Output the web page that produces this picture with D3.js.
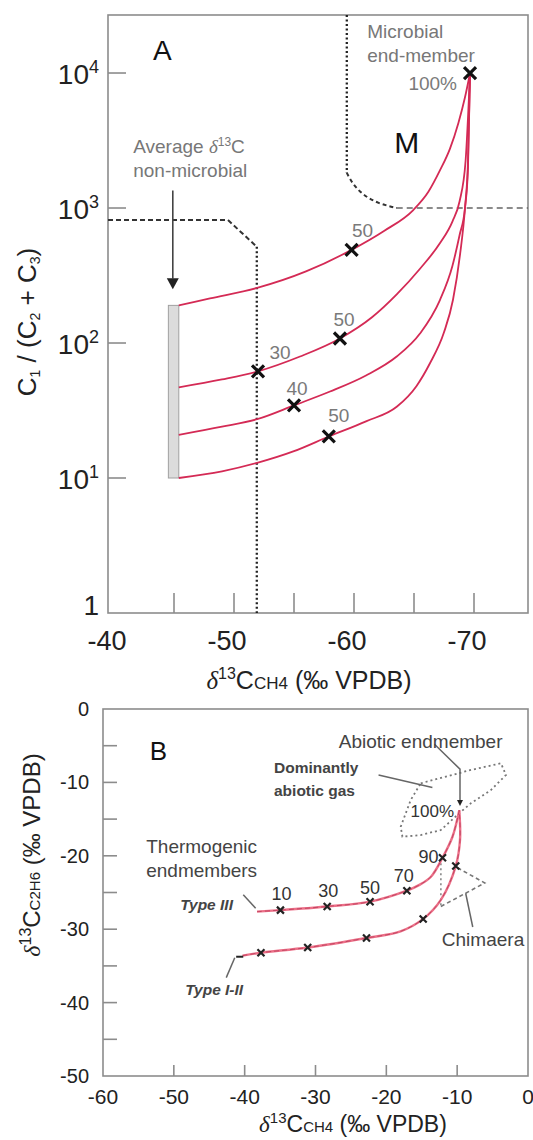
<!DOCTYPE html>
<html>
<head>
<meta charset="utf-8">
<script src="https://cdn.jsdelivr.net/npm/d3@7"></script>
<style>
  body { margin: 0; background: #fff; }
  svg { display: block; font-family: 'Liberation Sans', Arial, sans-serif; }
</style>
</head>
<body>
<div id="chart"></div>
<script>
// ---- panel A: d13C-CH4 vs C1/(C2+C3), mixing curves to microbial end-member ----
const curveA1 = [[-45.4, 190], [-48, 214], [-52, 257], [-56, 339], [-59.8, 490], [-62.5, 676], [-64.94, 966], [-66.2, 1318], [-67.17, 1905], [-68, 2754], [-68.7, 4266], [-69.25, 6607], [-69.67, 10000]];
const curveA2 = [[-45.4, 47], [-49, 53.7], [-52, 61.7], [-55.5, 79.4], [-58.83, 108], [-61.5, 155], [-63.56, 229], [-65.5, 355], [-67.17, 550], [-68.2, 794], [-68.8, 1122], [-69.3, 2239], [-69.67, 10000]];
const curveA3 = [[-45.4, 20.9], [-49, 24], [-52, 27.4], [-55, 34.5], [-58, 43.7], [-61, 57.5], [-63.56, 79.4], [-65.5, 117.5], [-67.17, 209], [-68.2, 372], [-68.8, 631], [-69.25, 1000], [-69.5, 1995], [-69.67, 10000]];
const curveA4 = [[-45.4, 10], [-49, 11.2], [-52, 13], [-55, 15.8], [-57.9, 20.3], [-61, 26.3], [-63.56, 33.7], [-65.2, 47.9], [-66.33, 70.8], [-67.5, 120], [-68.25, 209], [-68.83, 447], [-69.25, 1000], [-69.5, 2239], [-69.67, 10000]];
const markersA = [[-69.67, 10000], [-59.8, 490], [-58.83, 108], [-52, 61.7], [-55, 34.5], [-57.9, 20.3]];
const markerLabelsA = ['100%', '50', '50', '30', '40', '50'];
const averageBar = { x: [-44.53, -45.4], y: [10, 190] };
const nonMicrobialLine = [[-39.5, 815], [-49.5, 815], [-51.9, 516], [-51.9, 1]];
const microbialLine = [[-59.4, 26900], [-59.4, 1820], [-59.9, 1500], [-60.75, 1250], [-62, 1080], [-63.56, 1000], [-74.5, 1000]];
const yTicksA = [1, 10, 100, 1000, 10000];
const yTickExpA = [null, 1, 2, 3, 4];
const xTicksA = [-45, -50, -55, -60, -65, -70];
const xLabelsA = [-40, -50, -60, -70];

// ---- panel B: d13C-CH4 vs d13C-C2H6, thermogenic to abiotic mixing ----
const typeIII = [[-38.25, -27.6], [-34.95, -27.4], [-28.35, -26.9], [-22.3, -26.25], [-17.1, -24.75], [-15.4, -24.0], [-13.7, -22.85], [-12.07, -20.26], [-10.66, -17.4], [-9.7, -13.8]];
const typeI_II = [[-40.3, -33.6], [-37.7, -33.2], [-31.1, -32.5], [-22.8, -31.2], [-18, -30.3], [-14.8, -28.6], [-12.3, -26], [-10.2, -21.4], [-9.6, -17.85], [-9.7, -13.8]];
const markersIII = [[-34.95, -27.4], [-28.35, -26.9], [-22.3, -26.25], [-17.1, -24.75], [-12.07, -20.26]];
const labelsIII = ['10', '30', '50', '70', '90'];
const markersI_II = [[-37.7, -33.2], [-31.1, -32.5], [-22.8, -31.2], [-14.8, -28.6], [-10.2, -21.4]];
const abioticEnd = [-9.6, -12.8];
const abioticLeader = [[-9.6, -12.8], [-9.6, -8.2], [-13.2, -4.8]];
const abioticGasOutline = [[-15.14, -10.12], [-8.07, -8.31], [-3.82, -7.4], [-3.11, -8.99], [-5.24, -11.04], [-8.07, -12.85], [-9.72, -14.21], [-12.3, -16.49], [-15.14, -17.17], [-17.73, -17.4], [-17.97, -16.04], [-16.56, -12.4], [-15.14, -10.12]];
const gasLeader = [[-21.1, -9.0], [-13.5, -10.7]];
const chimaeraDotted = [[-12.3, -21.0], [-12.3, -26.9]];
const chimaeraDashed = [[-12.3, -26.9], [-6.1, -23.7], [-10.2, -21.5]];
const chimaeraLeader = [[-8.8, -25.1], [-7.8, -29.7]];
const typeIIILeader = [[-40.2, -25.3], [-38.45, -27.15]];
const typeI_IILeader = [[-42.6, -36.6], [-41.4, -33.9]];
const typeI_IIStart = [[-41.2, -33.75], [-40.2, -33.75]];
const yTicksB = [-45, -40, -35, -30, -25, -20, -15, -10, -5];
const yLabelsB = [0, -10, -20, -30, -40, -50];
const xTicksB = [-50, -40, -30, -20, -10];
const xLabelsB = [-60, -50, -40, -30, -20, -10, 0];

const svg = d3.select('#chart').append('svg')
  .attr('width', 533)
  .attr('height', 1140);

const frameColor = '#8c8c8c';
const fmtMinus = d => (d < 0 ? '-' + Math.abs(d) : String(d));
const xPath = s => `M${-s},${-s}L${s},${s}M${-s},${s}L${s},${-s}`;

// ================= PANEL A =================
const xA = d3.scaleLinear().domain([-39.5, -74.5]).range([108, 528]);
const yA = d3.scaleLog().domain([1, 26900]).range([613, 15]);
const a = svg.append('g');

const lineA = d3.line()
  .x(d => xA(d[0]))
  .y(d => yA(d[1]));

a.append('rect')
  .attr('x', xA.range()[0]).attr('y', yA.range()[1])
  .attr('width', xA.range()[1] - xA.range()[0])
  .attr('height', yA.range()[0] - yA.range()[1])
  .attr('fill', 'none').attr('stroke', frameColor).attr('stroke-width', 1.6);

a.selectAll('.ytick').data(yTicksA.slice(1)).enter().append('line')
  .attr('x1', xA.range()[0]).attr('x2', xA.range()[0] + 18)
  .attr('y1', d => yA(d)).attr('y2', d => yA(d))
  .attr('stroke', frameColor).attr('stroke-width', 1.6);

a.selectAll('.xtick').data(xTicksA).enter().append('line')
  .attr('x1', d => xA(d)).attr('x2', d => xA(d))
  .attr('y1', yA.range()[0]).attr('y2', yA.range()[0] - 20)
  .attr('stroke', frameColor).attr('stroke-width', 1.6);

const yLab = a.selectAll('.ylab').data(yTicksA).enter().append('text')
  .attr('x', xA.range()[0] - 9)
  .attr('y', (d, i) => yA(d) + (yTickExpA[i] === null ? 2 : 11))
  .attr('text-anchor', 'end')
  .attr('font-size', 28)
  .attr('fill', '#222');
yLab.each(function (d, i) {
  const t = d3.select(this);
  if (yTickExpA[i] === null) {
    t.text('1');
  } else {
    t.append('tspan').text('10');
    t.append('tspan').attr('font-size', 18).attr('dy', -11).text(yTickExpA[i]);
  }
});

a.selectAll('.xlab').data(xLabelsA).enter().append('text')
  .attr('x', d => xA(d) - 7)
  .attr('y', 650)
  .attr('text-anchor', 'middle')
  .attr('font-size', 27)
  .attr('fill', '#222')
  .text(fmtMinus);

// axis titles A
const xTitleA = a.append('text')
  .attr('x', 309).attr('y', 689)
  .attr('text-anchor', 'middle')
  .attr('font-size', 25)
  .attr('fill', '#222');
xTitleA.append('tspan').attr('font-family', 'Liberation Serif, serif').attr('font-style', 'italic').text('δ');
xTitleA.append('tspan').attr('font-size', 16).attr('dy', -10).text('13');
xTitleA.append('tspan').attr('dy', 10).text('C');
xTitleA.append('tspan').attr('font-size', 17).text('CH4');
xTitleA.append('tspan').text(' (‰ VPDB)');

const yTitleA = a.append('text')
  .attr('transform', 'translate(36,322) rotate(-90)')
  .attr('text-anchor', 'middle')
  .attr('font-size', 26)
  .attr('fill', '#222');
yTitleA.append('tspan').text('C');
yTitleA.append('tspan').attr('font-size', 14).attr('dy', 4).text('1');
yTitleA.append('tspan').attr('dy', -4).text(' / (C');
yTitleA.append('tspan').attr('font-size', 14).attr('dy', 4).text('2');
yTitleA.append('tspan').attr('dy', -4).text(' + C');
yTitleA.append('tspan').attr('font-size', 14).attr('dy', 4).text('3');
yTitleA.append('tspan').attr('dy', -4).text(')');

// boundary lines
a.append('path')
  .attr('d', lineA(nonMicrobialLine.slice(0, 3)))
  .attr('fill', 'none').attr('stroke', '#333').attr('stroke-width', 2).attr('stroke-dasharray', '5,3');
a.append('path')
  .attr('d', lineA(nonMicrobialLine.slice(2)))
  .attr('fill', 'none').attr('stroke', '#222').attr('stroke-width', 2.3).attr('stroke-dasharray', '2,2.5');
a.append('path')
  .attr('d', lineA(microbialLine.slice(0, 2)))
  .attr('fill', 'none').attr('stroke', '#222').attr('stroke-width', 2.3).attr('stroke-dasharray', '2,2.5');
a.append('path')
  .attr('d', d3.line().x(d => xA(d[0])).y(d => yA(d[1])).curve(d3.curveBasis)(microbialLine.slice(1, 6)))
  .attr('fill', 'none').attr('stroke', '#333').attr('stroke-width', 2).attr('stroke-dasharray', '4,3');
a.append('path')
  .attr('d', lineA(microbialLine.slice(5)))
  .attr('fill', 'none').attr('stroke', '#666').attr('stroke-width', 1.6).attr('stroke-dasharray', '6,4');

// average non-microbial bar
a.append('rect')
  .attr('x', xA(averageBar.x[0])).attr('y', yA(averageBar.y[1]))
  .attr('width', xA(averageBar.x[1]) - xA(averageBar.x[0]))
  .attr('height', yA(averageBar.y[0]) - yA(averageBar.y[1]))
  .attr('fill', '#dcdcdc').attr('stroke', '#a0a0a0').attr('stroke-width', 1);

// curves
const curveLine = d3.line()
  .x(d => xA(d[0]))
  .y(d => yA(d[1]))
  .curve(d3.curveMonotoneX);
a.selectAll('.curveA').data([curveA1, curveA2, curveA3, curveA4]).enter().append('path')
  .attr('d', curveLine)
  .attr('fill', 'none').attr('stroke', '#d42a55').attr('stroke-width', 1.8);

// markers
a.selectAll('.mA').data(markersA).enter().append('path')
  .attr('transform', d => `translate(${xA(d[0])},${yA(d[1])})`)
  .attr('d', xPath(6))
  .attr('stroke', '#111').attr('stroke-width', 3.2);

const labelOffsetsA = [[-13, 17, 'end'], [11, -13, 'middle'], [4, -12, 'middle'], [22, -12, 'middle'], [3, -10, 'middle'], [10, -14, 'middle']];
a.selectAll('.mlA').data(markersA).enter().append('text')
  .attr('x', (d, i) => xA(d[0]) + labelOffsetsA[i][0])
  .attr('y', (d, i) => yA(d[1]) + labelOffsetsA[i][1])
  .attr('text-anchor', (d, i) => labelOffsetsA[i][2])
  .attr('font-size', 19)
  .attr('fill', '#7a7a7a')
  .text((d, i) => markerLabelsA[i]);

// annotations A
a.append('text').attr('x', xA(-43.25)).attr('y', yA(12480))
  .attr('font-size', 28).attr('fill', '#111').text('A');
a.append('text').attr('x', xA(-64.4)).attr('y', yA(2555))
  .attr('text-anchor', 'middle').attr('font-size', 30).attr('fill', '#111').text('M');
a.append('text').attr('x', xA(-61.1)).attr('y', yA(18300))
  .attr('font-size', 19).attr('fill', '#777').text('Microbial');
a.append('text').attr('x', xA(-61.1)).attr('y', yA(12100))
  .attr('font-size', 19).attr('fill', '#777').text('end-member');
const avg = a.append('text').attr('x', xA(-41.6)).attr('y', yA(2555))
  .attr('font-size', 19).attr('fill', '#777');
avg.append('tspan').text('Average ');
avg.append('tspan').attr('font-family', 'Liberation Serif, serif').attr('font-style', 'italic').text('δ');
avg.append('tspan').attr('font-size', 12).attr('dy', -7).text('13');
avg.append('tspan').attr('dy', 7).text('C');
a.append('text').attr('x', xA(-41.6)).attr('y', yA(1700))
  .attr('font-size', 19).attr('fill', '#777').text('non-microbial');

// arrow
a.append('line')
  .attr('x1', xA(-44.9)).attr('x2', xA(-44.9))
  .attr('y1', yA(1350)).attr('y2', yA(300))
  .attr('stroke', '#444').attr('stroke-width', 1.6);
a.append('path')
  .attr('transform', `translate(${xA(-44.9)},${yA(250)})`)
  .attr('d', 'M0,0L-6,-11L6,-11Z')
  .attr('fill', '#222');

// ================= PANEL B =================
const xB = d3.scaleLinear().domain([-60, 0]).range([103, 528]);
const yB = d3.scaleLinear().domain([-50, 0]).range([1076, 709]);
const b = svg.append('g');
const lineB = d3.line().x(d => xB(d[0])).y(d => yB(d[1]));

b.append('rect')
  .attr('x', xB.range()[0]).attr('y', yB.range()[1])
  .attr('width', xB.range()[1] - xB.range()[0])
  .attr('height', yB.range()[0] - yB.range()[1])
  .attr('fill', 'none').attr('stroke', frameColor).attr('stroke-width', 1.6);

b.selectAll('.ytickB').data(yTicksB).enter().append('line')
  .attr('x1', xB.range()[0]).attr('x2', xB.range()[0] + 14)
  .attr('y1', d => yB(d)).attr('y2', d => yB(d))
  .attr('stroke', frameColor).attr('stroke-width', 1.6);
b.selectAll('.xtickB').data(xTicksB).enter().append('line')
  .attr('x1', d => xB(d)).attr('x2', d => xB(d))
  .attr('y1', yB.range()[0]).attr('y2', yB.range()[0] - 11)
  .attr('stroke', frameColor).attr('stroke-width', 1.6);

b.selectAll('.ylabB').data(yLabelsB).enter().append('text')
  .attr('x', xB.range()[0] - 14)
  .attr('y', d => yB(d) + 7)
  .attr('text-anchor', 'end')
  .attr('font-size', 20)
  .attr('fill', '#222')
  .text(fmtMinus);
b.selectAll('.xlabB').data(xLabelsB).enter().append('text')
  .attr('x', d => xB(d))
  .attr('y', 1104)
  .attr('text-anchor', 'middle')
  .attr('font-size', 21)
  .attr('fill', '#222')
  .text(fmtMinus);

const xTitleB = b.append('text')
  .attr('x', 353).attr('y', 1132)
  .attr('text-anchor', 'middle')
  .attr('font-size', 23)
  .attr('fill', '#222');
xTitleB.append('tspan').attr('font-family', 'Liberation Serif, serif').attr('font-style', 'italic').text('δ');
xTitleB.append('tspan').attr('font-size', 15).attr('dy', -9).text('13');
xTitleB.append('tspan').attr('dy', 9).text('C');
xTitleB.append('tspan').attr('font-size', 15).text('CH4');
xTitleB.append('tspan').text(' (‰ VPDB)');

const yTitleB = b.append('text')
  .attr('transform', 'translate(40,855) rotate(-90)')
  .attr('text-anchor', 'middle')
  .attr('font-size', 24)
  .attr('fill', '#222');
yTitleB.append('tspan').attr('font-family', 'Liberation Serif, serif').attr('font-style', 'italic').text('δ');
yTitleB.append('tspan').attr('font-size', 16).attr('dy', -9).text('13');
yTitleB.append('tspan').attr('dy', 9).text('C');
yTitleB.append('tspan').attr('font-size', 15).text('C2H6');
yTitleB.append('tspan').text(' (‰ VPDB)');

// outlines and leaders
b.append('path').attr('d', lineB(abioticGasOutline))
  .attr('fill', 'none').attr('stroke', '#777').attr('stroke-width', 1.8).attr('stroke-dasharray', '2,3');
b.append('path').attr('d', lineB(chimaeraDotted))
  .attr('fill', 'none').attr('stroke', '#888').attr('stroke-width', 1.6).attr('stroke-dasharray', '2,3');
b.append('path').attr('d', lineB(chimaeraDashed))
  .attr('fill', 'none').attr('stroke', '#777').attr('stroke-width', 1.6).attr('stroke-dasharray', '4,3');
[abioticLeader, gasLeader, chimaeraLeader, typeIIILeader, typeI_IILeader].forEach(seg => {
  b.append('path').attr('d', lineB(seg))
    .attr('fill', 'none').attr('stroke', '#666').attr('stroke-width', 1.5);
});

// curves
const curveLineB = d3.line()
  .x(d => xB(d[0]))
  .y(d => yB(d[1]))
  .curve(d3.curveCatmullRom.alpha(0.5));
b.selectAll('.curveB').data([typeIII, typeI_II]).enter().append('path')
  .attr('d', curveLineB)
  .attr('fill', 'none').attr('stroke', '#ec7088').attr('stroke-width', 2.4);
b.selectAll('.curveBc').data([typeIII, typeI_II]).enter().append('path')
  .attr('d', curveLineB)
  .attr('fill', 'none').attr('stroke', '#b83a58').attr('stroke-width', 0.8).attr('stroke-dasharray', '5,3');
b.append('path').attr('d', lineB(typeI_IIStart))
  .attr('stroke', '#222').attr('stroke-width', 2);

b.selectAll('.mB').data(markersIII.concat(markersI_II)).enter().append('path')
  .attr('transform', d => `translate(${xB(d[0])},${yB(d[1])})`)
  .attr('d', xPath(3.5))
  .attr('stroke', '#222').attr('stroke-width', 2.2);
b.append('path')
  .attr('transform', `translate(${xB(abioticEnd[0])},${yB(abioticEnd[1])})`)
  .attr('d', 'M-3,-3L3,-3L0,3Z')
  .attr('fill', '#222');

const labelOffsetsB = [[1, -10, 'middle'], [1, -9, 'middle'], [0, -8, 'middle'], [-3, -9, 'middle'], [-4, 5, 'end']];
b.selectAll('.mlB').data(markersIII).enter().append('text')
  .attr('x', (d, i) => xB(d[0]) + labelOffsetsB[i][0])
  .attr('y', (d, i) => yB(d[1]) + labelOffsetsB[i][1])
  .attr('text-anchor', (d, i) => labelOffsetsB[i][2])
  .attr('font-size', 18)
  .attr('fill', '#333')
  .text((d, i) => labelsIII[i]);
b.append('text').attr('x', xB(abioticEnd[0]) - 6).attr('y', yB(abioticEnd[1]) + 14)
  .attr('text-anchor', 'end').attr('font-size', 17).attr('fill', '#333').text('100%');

// annotations B
b.append('text').attr('x', xB(-53.4)).attr('y', yB(-6.95))
  .attr('font-size', 26).attr('fill', '#111').text('B');
b.append('text').attr('x', xB(-3.6)).attr('y', yB(-5.3))
  .attr('text-anchor', 'end').attr('font-size', 19).attr('fill', '#444').text('Abiotic endmember');
b.append('text').attr('x', xB(-35.86)).attr('y', yB(-8.7))
  .attr('font-size', 15.5).attr('font-weight', 'bold').attr('fill', '#444').text('Dominantly');
b.append('text').attr('x', xB(-35.86)).attr('y', yB(-11.85))
  .attr('font-size', 15.5).attr('font-weight', 'bold').attr('fill', '#444').text('abiotic gas');
b.append('text').attr('x', xB(-53.9)).attr('y', yB(-19.6))
  .attr('font-size', 19).attr('fill', '#444').text('Thermogenic');
b.append('text').attr('x', xB(-53.9)).attr('y', yB(-22.9))
  .attr('font-size', 19).attr('fill', '#444').text('endmembers');
b.append('text').attr('x', xB(-41.65)).attr('y', yB(-27.4))
  .attr('text-anchor', 'end').attr('font-size', 15.5).attr('font-weight', 'bold').attr('font-style', 'italic')
  .attr('fill', '#444').text('Type III');
b.append('text').attr('x', xB(-48.4)).attr('y', yB(-39.0))
  .attr('font-size', 15.5).attr('font-weight', 'bold').attr('font-style', 'italic')
  .attr('fill', '#444').text('Type I-II');
b.append('text').attr('x', xB(-6.35)).attr('y', yB(-32.3))
  .attr('text-anchor', 'middle').attr('font-size', 19).attr('fill', '#444').text('Chimaera');
</script>
</body>
</html>
